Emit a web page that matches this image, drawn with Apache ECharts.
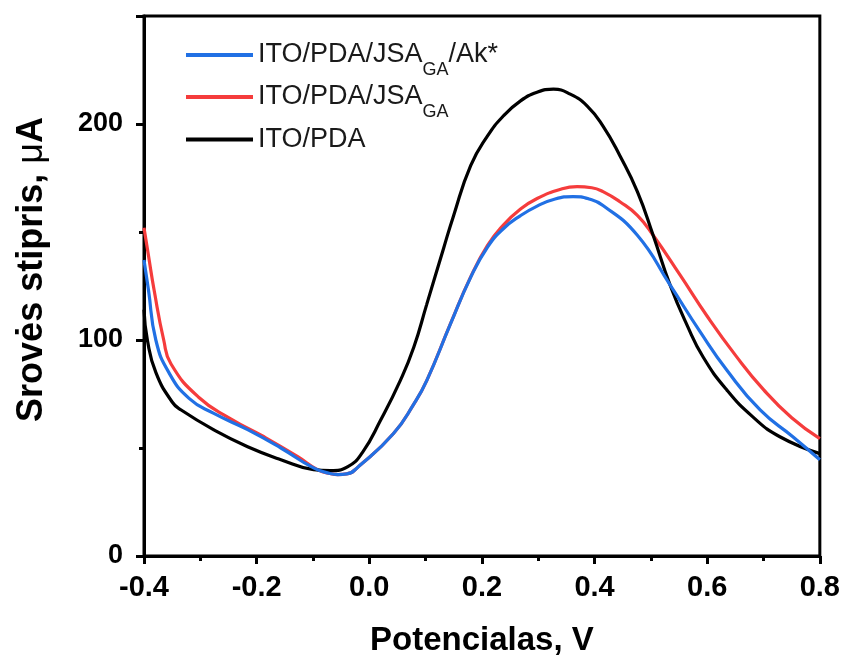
<!DOCTYPE html>
<html><head><meta charset="utf-8">
<script src="https://cdn.jsdelivr.net/npm/echarts@6/dist/echarts.min.js"></script>
<style>html,body{margin:0;padding:0;background:#fff}#c{width:843px;height:662px}</style>
</head><body><div id="c"></div>
<script>
// ---- data ----
const seriesNames = ['ITO/PDA/JSAGA/Ak*', 'ITO/PDA/JSAGA', 'ITO/PDA'];
const legendLabels = ['{n|ITO/PDA/JSA}{s|GA}{n|/Ak*}', '{n|ITO/PDA/JSA}{s|GA}', '{n|ITO/PDA}'];

const xBlue = [-0.400, -0.392, -0.379, -0.356, -0.320, -0.276, -0.216, -0.157, -0.099, -0.070, -0.056, -0.040, -0.016, 0.043, 0.079, 0.102, 0.144, 0.180, 0.210, 0.238, 0.268, 0.298, 0.330, 0.362, 0.390, 0.415, 0.476, 0.534, 0.587, 0.635, 0.694, 0.752, 0.800];
const yBlue = [137, 123, 100, 85, 73, 66, 58.5, 50, 40.8, 38.2, 37.7, 38, 42.1, 56.7, 70.3, 81.2, 107.3, 129, 143, 151.5, 157.5, 162, 165.3, 166.4, 165.3, 162.3, 148.5, 125.5, 104, 86, 67.6, 55.2, 44.6];

const xRed = [-0.400, -0.392, -0.382, -0.365, -0.352, -0.303, -0.246, -0.187, -0.127, -0.092, -0.070, -0.056, -0.040, -0.016, 0.043, 0.079, 0.102, 0.144, 0.180, 0.210, 0.238, 0.268, 0.298, 0.340, 0.369, 0.395, 0.415, 0.445, 0.476, 0.504, 0.552, 0.600, 0.650, 0.700, 0.750, 0.800];
const yRed = [152, 139, 123, 100, 88.9, 73.5, 63.5, 55.2, 46, 40, 38.2, 37.7, 38, 42.1, 56.7, 70.3, 81.2, 107.5, 129.2, 143.8, 153.2, 160.5, 165.5, 169.8, 171, 170.5, 168.7, 164, 157.7, 148.5, 130, 111, 93, 77, 64, 54.3];

const xBlack = [-0.400, -0.394, -0.379, -0.350, -0.334, -0.276, -0.216, -0.157, -0.099, -0.069, -0.038, -0.012, 0.020, 0.055, 0.079, 0.102, 0.132, 0.149, 0.180, 0.210, 0.238, 0.268, 0.298, 0.327, 0.357, 0.387, 0.415, 0.445, 0.476, 0.504, 0.534, 0.564, 0.593, 0.635, 0.681, 0.729, 0.800];
const yBlack = [114, 100, 85, 71.3, 67.6, 58.4, 50.6, 44.6, 40, 39.5, 41.4, 48, 62.8, 81.2, 96.6, 116.5, 142.5, 157, 180.7, 194.5, 203.7, 210.6, 214.7, 216.1, 213.8, 208.3, 199, 185.3, 168.7, 148.5, 125.5, 107, 92, 76.8, 64.4, 55.2, 47.4];

const xTickLabels = ['-0.4', '-0.2', '0.0', '0.2', '0.4', '0.6', '0.8'];
const yTickLabels = ['0', '100', '200'];
const yMax = 250;
const xAxisTitle = 'Potencialas, V';
const yAxisTitle = '{b|Srovės stipris, }{m|μ}{b|A}';

// ---- chart ----
const zip = (xs, ys) => xs.map((x, i) => [x, ys[i]]);
const FONT = 'Liberation Sans, Arial, sans-serif';
const xMin = parseFloat(xTickLabels[0]);
const xMax = parseFloat(xTickLabels[xTickLabels.length - 1]);
const xInt = parseFloat(xTickLabels[1]) - xMin;
const yMin = parseFloat(yTickLabels[0]);
const yInt = parseFloat(yTickLabels[1]) - yMin;

const legendTops = [31, 73, 126];
const legends = seriesNames.map((nm, i) => ({
  data: [nm],
  orient: 'vertical', left: 186, top: legendTops[i], padding: 0,
  itemWidth: 67, itemHeight: 4, icon: 'rect',
  selectedMode: false,
  formatter: name => legendLabels[seriesNames.indexOf(name)],
  textStyle: {
    fontFamily: FONT, fontSize: 27, color: '#1a1a1a',
    rich: {
      n: {fontFamily: FONT, fontSize: 27, lineHeight: 30, color: '#1a1a1a'},
      s: {fontFamily: FONT, fontSize: 18, lineHeight: 30, padding: [30, 0, 0, 0], color: '#1a1a1a'}
    }
  }
}));

const chart = echarts.init(document.getElementById('c'), null, {renderer: 'canvas'});
chart.setOption({
  animation: false,
  backgroundColor: '#fff',
  grid: {left: 144, right: 22, top: 16, bottom: 102, show: true, borderColor: '#000', borderWidth: 3, backgroundColor: 'transparent'},
  legend: legends,
  xAxis: {
    type: 'value', min: xMin, max: xMax, interval: xInt,
    name: xAxisTitle, nameLocation: 'middle', nameGap: 68,
    nameTextStyle: {fontFamily: FONT, fontSize: 33, fontWeight: 'bold', color: '#000'},
    axisLine: {show: true, onZero: false, lineStyle: {color: '#000', width: 3}},
    axisTick: {show: true, length: 8, lineStyle: {color: '#000', width: 3}},
    minorTick: {show: true, splitNumber: 2, length: 5, lineStyle: {color: '#000', width: 3}},
    axisLabel: {
      margin: 17, fontFamily: FONT, fontSize: 29, fontWeight: 'bold', color: '#000',
      formatter: v => { const s = v.toFixed(1); return xTickLabels.includes(s) ? s : ''; }
    },
    splitLine: {show: false}
  },
  yAxis: [{
    type: 'value', min: yMin, max: yMax, interval: yInt / 2,
    name: yAxisTitle, nameLocation: 'middle', nameGap: 94, nameRotate: 90,
    nameTextStyle: {
      fontFamily: FONT, fontSize: 36, color: '#000', padding: [0, 0, 0, 33],
      rich: {
        b: {fontFamily: FONT, fontSize: 36, fontWeight: 'bold', color: '#000'},
        m: {fontFamily: FONT, fontSize: 36, fontWeight: 'normal', color: '#000'}
      }
    },
    axisLine: {show: true, onZero: false, lineStyle: {color: '#000', width: 3}},
    axisTick: {show: true, length: 5, lineStyle: {color: '#000', width: 3}},
    axisLabel: {
      margin: 21, fontFamily: FONT, fontSize: 27, fontWeight: 'bold', color: '#000',
      formatter: v => { const s = String(Math.round(v)); return yTickLabels.includes(s) ? s : ''; }
    },
    splitLine: {show: false}
  }, {
    type: 'value', min: yMin, max: yMax, interval: yInt, position: 'left',
    axisLine: {show: false, onZero: false},
    axisTick: {show: true, length: 8, lineStyle: {color: '#000', width: 3}},
    axisLabel: {show: false},
    splitLine: {show: false}
  }],
  series: [
    {name: seriesNames[1], type: 'line', data: zip(xRed, yRed), showSymbol: false, smooth: 0.5,
     lineStyle: {width: 3.2, color: '#f53c3c'}, itemStyle: {color: '#f53c3c'}, z: 2},
    {name: seriesNames[2], type: 'line', data: zip(xBlack, yBlack), showSymbol: false, smooth: 0.5,
     lineStyle: {width: 3.2, color: '#000000'}, itemStyle: {color: '#000000'}, z: 3},
    {name: seriesNames[0], type: 'line', data: zip(xBlue, yBlue), showSymbol: false, smooth: 0.5,
     lineStyle: {width: 3.2, color: '#2170e4'}, itemStyle: {color: '#2170e4'}, z: 4}
  ]
});
</script>
</body></html>
